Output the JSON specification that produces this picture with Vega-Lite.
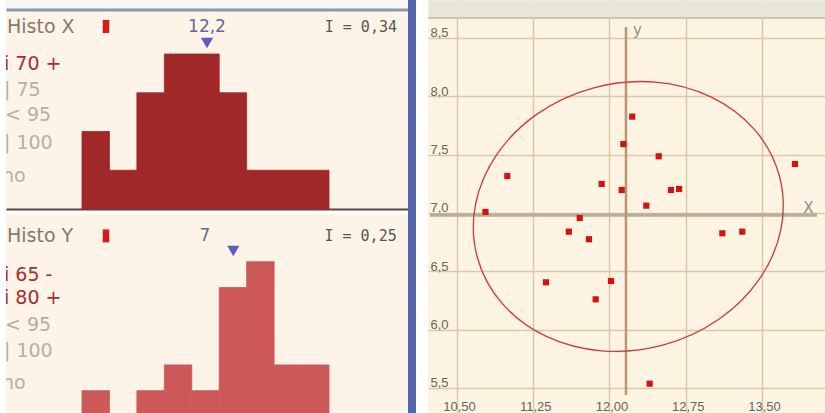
{
  "$schema": "https://vega.github.io/schema/vega-lite/v6.json",
  "background": "#ffffff",
  "padding": {"left": 6, "top": 0, "right": 0, "bottom": 0},
  "spacing": 0,
  "config": {"view": {"stroke": null}},
  "hconcat": [
    {
      "spacing": 4,
      "vconcat": [
        {
          "width": 402,
          "height": 209,
          "view": {"fill": "#fdf3e7", "stroke": null},
          "resolve": {"axis": {"x": "independent"}},
          "layer": [
            {
              "data": {"values": [
                {"b0": 0, "b1": 1, "n": 2}, {"b0": 1, "b1": 2, "n": 1}, {"b0": 2, "b1": 3, "n": 3},
                {"b0": 3, "b1": 4, "n": 4}, {"b0": 4, "b1": 5, "n": 4}, {"b0": 5, "b1": 6, "n": 3},
                {"b0": 6, "b1": 7, "n": 1}, {"b0": 7, "b1": 8, "n": 1}, {"b0": 8, "b1": 9, "n": 1}
              ]},
              "mark": {"type": "rect", "color": "#a02828", "stroke": "#a02828", "strokeWidth": 0.8},
              "encoding": {
                "x": {"field": "b0", "type": "quantitative", "scale": {"domain": [-2.769, 11.879], "nice": false, "zero": false},
                      "axis": {"orient": "bottom", "title": null, "labels": false, "ticks": false, "tickSize": 0, "grid": false, "domain": true, "domainColor": "#5e4242", "domainWidth": 2}},
                "x2": {"field": "b1"},
                "y": {"field": "n", "type": "quantitative", "scale": {"domain": [0, 5.394], "nice": false, "zero": false}, "axis": null},
                "y2": {"datum": 0}
              }
            },
            {
              "data": {"values": [{"t": "Histo X", "u": -2.733, "c": 4.71}]},
              "mark": {"type": "text", "align": "left", "baseline": "middle", "font": "DejaVu Sans", "fontSize": 19, "color": "#8c7474"},
              "encoding": {
                "x": {"field": "u", "type": "quantitative", "scale": {"domain": [-2.769, 11.879], "nice": false, "zero": false},
                      "axis": {"orient": "top", "title": null, "labels": false, "ticks": false, "tickSize": 0, "grid": false, "domain": true, "domainColor": "#f7f7f5", "domainWidth": 8, "offset": -4, "zindex": 1}},
                "y": {"field": "c", "type": "quantitative", "scale": {"domain": [0, 5.394], "nice": false, "zero": false}, "axis": null},
                "text": {"field": "t"}
              }
            },
            {
              "data": {"values": [
                {"t": "i 70 +", "u": -2.842, "c": 3.742, "s": "on"},
                {"t": "| 75", "u": -2.842, "c": 3.084, "s": "off"},
                {"t": "< 95", "u": -2.806, "c": 2.426, "s": "off"},
                {"t": "| 100", "u": -2.842, "c": 1.716, "s": "off"},
                {"t": "no", "u": -2.915, "c": 0.852, "s": "off"}
              ]},
              "mark": {"type": "text", "align": "left", "baseline": "middle", "font": "DejaVu Sans", "fontSize": 19, "clip": true},
              "encoding": {
                "x": {"field": "u", "type": "quantitative", "scale": {"domain": [-2.769, 11.879], "nice": false, "zero": false},
                      "axis": {"orient": "top", "title": null, "labels": false, "ticks": false, "tickSize": 0, "grid": false, "domain": true, "domainColor": "#8e99a5", "domainWidth": 3, "offset": -9.5, "zindex": 1}},
                "y": {"field": "c", "type": "quantitative", "scale": {"domain": [0, 5.394], "nice": false, "zero": false}, "axis": null},
                "color": {"field": "s", "type": "nominal", "scale": {"domain": ["on", "off"], "range": ["#a33030", "#b7afa6"]}, "legend": null},
                "text": {"field": "t"}
              }
            },
            {
              "data": {"values": [{"t": "12,2", "u": 4.555, "c": 4.71}]},
              "mark": {"type": "text", "align": "center", "baseline": "middle", "font": "DejaVu Sans", "fontSize": 17, "color": "#5d6aa6"},
              "encoding": {
                "x": {"field": "u", "type": "quantitative", "scale": {"domain": [-2.769, 11.879], "nice": false, "zero": false}, "axis": null},
                "y": {"field": "c", "type": "quantitative", "scale": {"domain": [0, 5.394], "nice": false, "zero": false}, "axis": null},
                "text": {"field": "t"}
              }
            },
            {
              "data": {"values": [{"t": "I = 0,34", "u": 11.478, "c": 4.71}]},
              "mark": {"type": "text", "align": "right", "baseline": "middle", "font": "DejaVu Sans Mono", "fontSize": 15, "color": "#555555"},
              "encoding": {
                "x": {"field": "u", "type": "quantitative", "scale": {"domain": [-2.769, 11.879], "nice": false, "zero": false}, "axis": null},
                "y": {"field": "c", "type": "quantitative", "scale": {"domain": [0, 5.394], "nice": false, "zero": false}, "axis": null},
                "text": {"field": "t"}
              }
            },
            {
              "data": {"values": [{"u": 0.8745, "c": 4.71}]},
              "mark": {"type": "point", "shape": "M -0.5 -1 L 0.5 -1 L 0.5 1 L -0.5 1 Z", "size": 169, "filled": true, "color": "#d41c1c", "opacity": 1},
              "encoding": {
                "x": {"field": "u", "type": "quantitative", "scale": {"domain": [-2.769, 11.879], "nice": false, "zero": false}, "axis": null},
                "y": {"field": "c", "type": "quantitative", "scale": {"domain": [0, 5.394], "nice": false, "zero": false}, "axis": null}
              }
            },
            {
              "data": {"values": [{"u": 4.555, "c": 4.284}]},
              "mark": {"type": "point", "shape": "triangle-down", "size": 150, "filled": true, "color": "#5c5cc6", "opacity": 1},
              "encoding": {
                "x": {"field": "u", "type": "quantitative", "scale": {"domain": [-2.769, 11.879], "nice": false, "zero": false}, "axis": null},
                "y": {"field": "c", "type": "quantitative", "scale": {"domain": [0, 5.394], "nice": false, "zero": false}, "axis": null}
              }
            }
          ]
        },
        {
          "width": 402,
          "height": 200,
          "view": {"fill": "#fdf3e7", "stroke": null},
          "layer": [
            {
              "data": {"values": [
                {"b0": 0, "b1": 1, "n": 1}, {"b0": 1, "b1": 2, "n": 0}, {"b0": 2, "b1": 3, "n": 1},
                {"b0": 3, "b1": 4, "n": 2}, {"b0": 4, "b1": 5, "n": 1}, {"b0": 5, "b1": 6, "n": 5},
                {"b0": 6, "b1": 7, "n": 6}, {"b0": 7, "b1": 8, "n": 2}, {"b0": 8, "b1": 9, "n": 2}
              ]},
              "mark": {"type": "rect", "color": "#cc5858", "stroke": "#cc5858", "strokeWidth": 0.8},
              "encoding": {
                "x": {"field": "b0", "type": "quantitative", "scale": {"domain": [-2.769, 11.879], "nice": false, "zero": false}, "axis": null},
                "x2": {"field": "b1"},
                "y": {"field": "n", "type": "quantitative", "scale": {"domain": [0.097, 7.849], "nice": false, "zero": false, "clamp": true}, "axis": null},
                "y2": {"datum": 0}
              }
            },
            {
              "data": {"values": [{"t": "Histo Y", "u": -2.733, "c": 7.0}]},
              "mark": {"type": "text", "align": "left", "baseline": "middle", "font": "DejaVu Sans", "fontSize": 19, "color": "#8c7474"},
              "encoding": {
                "x": {"field": "u", "type": "quantitative", "scale": {"domain": [-2.769, 11.879], "nice": false, "zero": false}, "axis": null},
                "y": {"field": "c", "type": "quantitative", "scale": {"domain": [0.097, 7.849], "nice": false, "zero": false, "clamp": true}, "axis": null},
                "text": {"field": "t"}
              }
            },
            {
              "data": {"values": [
                {"t": "i 65 -", "u": -2.842, "c": 5.504, "s": "on"},
                {"t": "i 80 +", "u": -2.842, "c": 4.612, "s": "on"},
                {"t": "< 95", "u": -2.806, "c": 3.566, "s": "off"},
                {"t": "| 100", "u": -2.842, "c": 2.558, "s": "off"},
                {"t": "no", "u": -2.915, "c": 1.298, "s": "off"}
              ]},
              "mark": {"type": "text", "align": "left", "baseline": "middle", "font": "DejaVu Sans", "fontSize": 19, "clip": true},
              "encoding": {
                "x": {"field": "u", "type": "quantitative", "scale": {"domain": [-2.769, 11.879], "nice": false, "zero": false}, "axis": null},
                "y": {"field": "c", "type": "quantitative", "scale": {"domain": [0.097, 7.849], "nice": false, "zero": false, "clamp": true}, "axis": null},
                "color": {"field": "s", "type": "nominal", "scale": {"domain": ["on", "off"], "range": ["#a33030", "#b7afa6"]}, "legend": null},
                "text": {"field": "t"}
              }
            },
            {
              "data": {"values": [{"t": "7", "u": 4.482, "c": 7.0}]},
              "mark": {"type": "text", "align": "center", "baseline": "middle", "font": "DejaVu Sans", "fontSize": 17, "color": "#5d6aa6"},
              "encoding": {
                "x": {"field": "u", "type": "quantitative", "scale": {"domain": [-2.769, 11.879], "nice": false, "zero": false}, "axis": null},
                "y": {"field": "c", "type": "quantitative", "scale": {"domain": [0.097, 7.849], "nice": false, "zero": false, "clamp": true}, "axis": null},
                "text": {"field": "t"}
              }
            },
            {
              "data": {"values": [{"t": "I = 0,25", "u": 11.467, "c": 7.0}]},
              "mark": {"type": "text", "align": "right", "baseline": "middle", "font": "DejaVu Sans Mono", "fontSize": 15, "color": "#555555"},
              "encoding": {
                "x": {"field": "u", "type": "quantitative", "scale": {"domain": [-2.769, 11.879], "nice": false, "zero": false}, "axis": null},
                "y": {"field": "c", "type": "quantitative", "scale": {"domain": [0.097, 7.849], "nice": false, "zero": false, "clamp": true}, "axis": null},
                "text": {"field": "t"}
              }
            },
            {
              "data": {"values": [{"u": 0.8745, "c": 7.0}]},
              "mark": {"type": "point", "shape": "M -0.5 -1 L 0.5 -1 L 0.5 1 L -0.5 1 Z", "size": 169, "filled": true, "color": "#d41c1c", "opacity": 1},
              "encoding": {
                "x": {"field": "u", "type": "quantitative", "scale": {"domain": [-2.769, 11.879], "nice": false, "zero": false}, "axis": null},
                "y": {"field": "c", "type": "quantitative", "scale": {"domain": [0.097, 7.849], "nice": false, "zero": false, "clamp": true}, "axis": null}
              }
            },
            {
              "data": {"values": [{"u": 5.513, "c": 6.415}]},
              "mark": {"type": "point", "shape": "triangle-down", "size": 150, "filled": true, "color": "#5c5cc6", "opacity": 1},
              "encoding": {
                "x": {"field": "u", "type": "quantitative", "scale": {"domain": [-2.769, 11.879], "nice": false, "zero": false}, "axis": null},
                "y": {"field": "c", "type": "quantitative", "scale": {"domain": [0.097, 7.849], "nice": false, "zero": false, "clamp": true}, "axis": null}
              }
            }
          ]
        }
      ]
    },
    {
      "width": 8,
      "height": 413,
      "view": {"fill": "#5565a9", "stroke": null},
      "data": {"values": [{"k": 1}]},
      "mark": {"type": "point", "opacity": 0},
      "encoding": {}
    },
    {
      "width": 397,
      "height": 413,
      "view": {"fill": "#fcf3e2", "stroke": null},
      "resolve": {"axis": {"x": "independent"}},
      "layer": [
        {
          "data": {"values": [{"y": 6.983, "xa": 10.234, "xb": 14.041}]},
          "mark": {"type": "rule", "color": "#bcab96", "strokeWidth": 3.5},
          "encoding": {
            "x": {"field": "xa", "type": "quantitative", "scale": {"domain": [10.2148, 14.1197], "nice": false, "zero": false},
                  "axis": {"orient": "top", "title": null, "labels": false, "ticks": false, "tickSize": 0, "grid": false, "domain": true, "domainColor": "#e8e5d9", "domainWidth": 17, "offset": -8.5, "zindex": 1}},
            "x2": {"field": "xb"},
            "y": {"field": "y", "type": "quantitative", "scale": {"domain": [5.2857, 8.8257], "nice": false, "zero": false}, "title": null}
          }
        },
        {
          "data": {"values": [{"x": 12.162, "ya": 8.594, "yb": 5.44}]},
          "mark": {"type": "rule", "color": "#bb9575", "strokeWidth": 2.5},
          "encoding": {
            "x": {"field": "x", "type": "quantitative", "scale": {"domain": [10.2148, 14.1197], "nice": false, "zero": false},
                  "axis": {"orient": "top", "title": null, "labels": false, "ticks": false, "tickSize": 0, "grid": false, "domain": true, "domainColor": "#cbc5b2", "domainWidth": 2, "offset": -17.5, "zindex": 1}},
            "y": {"field": "ya", "type": "quantitative", "scale": {"domain": [5.2857, 8.8257], "nice": false, "zero": false}, "title": null},
            "y2": {"field": "yb"}
          }
        },
        {
          "data": {"values": [{"x": 12.185, "y": 6.97}]},
          "mark": {"type": "point", "shape": "M 1 0 C 1 0.4706 0.5523 0.852 0 0.852 C -0.5523 0.852 -1 0.4706 -1 0 C -1 -0.4706 -0.5523 -0.852 0 -0.852 C 0.5523 -0.852 1 -0.4706 1 0 Z", "size": 97844, "angle": 345, "filled": false, "color": "#cd3a3a", "strokeWidth": 1.3, "opacity": 1},
          "encoding": {
            "x": {"field": "x", "type": "quantitative", "scale": {"domain": [10.2148, 14.1197], "nice": false, "zero": false}, "axis": null},
            "y": {"field": "y", "type": "quantitative", "scale": {"domain": [5.2857, 8.8257], "nice": false, "zero": false}, "title": null}
          }
        },
        {
          "data": {"values": [
            {"x": 12.224, "y": 7.826}, {"x": 12.136, "y": 7.591}, {"x": 12.484, "y": 7.486}, {"x": 13.824, "y": 7.42},
            {"x": 10.995, "y": 7.317}, {"x": 11.923, "y": 7.249}, {"x": 12.12, "y": 7.197}, {"x": 12.605, "y": 7.197},
            {"x": 12.684, "y": 7.206}, {"x": 12.362, "y": 7.063}, {"x": 10.78, "y": 7.009}, {"x": 11.707, "y": 6.957},
            {"x": 11.6, "y": 6.84}, {"x": 11.798, "y": 6.775}, {"x": 13.11, "y": 6.826}, {"x": 13.306, "y": 6.84},
            {"x": 11.375, "y": 6.406}, {"x": 12.015, "y": 6.417}, {"x": 11.864, "y": 6.26}, {"x": 12.395, "y": 5.537}
          ]},
          "mark": {"type": "square", "size": 38, "color": "#d51111", "opacity": 1},
          "encoding": {
            "x": {"field": "x", "type": "quantitative", "scale": {"domain": [10.2148, 14.1197], "nice": false, "zero": false},
                  "axis": {"orient": "bottom", "title": null, "values": [10.5, 11.25, 12, 12.75, 13.5],
                           "labelExpr": "replace(format(datum.value, '.2f'), '.', ',')",
                           "grid": true, "gridColor": "#dac9a8", "gridWidth": 1.5, "gridOpacity": 1,
                           "domain": false, "ticks": false, "tickSize": 0,
                           "labelPadding": -3, "labelBaseline": "alphabetic", "labelAlign": "center", "labelOffset": 2,
                           "labelFont": "Liberation Sans", "labelFontSize": 13, "labelColor": "#6c6454",
                           "labelFlush": false, "labelOverlap": false, "minExtent": 0, "maxExtent": 0}},
            "y": {"field": "y", "type": "quantitative", "scale": {"domain": [5.2857, 8.8257], "nice": false, "zero": false}, "title": null,
                  "axis": {"orient": "left", "title": null, "values": [5.5, 6, 6.5, 7, 7.5, 8, 8.5],
                           "labelExpr": "replace(format(datum.value, '.1f'), '.', ',')",
                           "grid": true, "gridColor": "#dac9a8", "gridWidth": 1.5, "gridOpacity": 1,
                           "domain": false, "ticks": false, "tickSize": 0,
                           "labelPadding": -2, "labelAlign": "left", "labelBaseline": "alphabetic", "labelOffset": -1,
                           "labelFont": "Liberation Sans", "labelFontSize": 13, "labelColor": "#6c6454",
                           "labelFlush": false, "labelOverlap": false, "minExtent": 12, "maxExtent": 12}}
          }
        },
        {
          "data": {"values": [{"t": "y", "x": 12.275, "y": 8.569}, {"t": "X", "x": 13.957, "y": 7.039}]},
          "mark": {"type": "text", "align": "center", "baseline": "middle", "font": "DejaVu Sans", "fontSize": 15, "color": "#8f8f8f"},
          "encoding": {
            "x": {"field": "x", "type": "quantitative", "scale": {"domain": [10.2148, 14.1197], "nice": false, "zero": false}, "axis": null},
            "y": {"field": "y", "type": "quantitative", "scale": {"domain": [5.2857, 8.8257], "nice": false, "zero": false}, "title": null},
            "text": {"field": "t"}
          }
        }
      ]
    }
  ]
}
